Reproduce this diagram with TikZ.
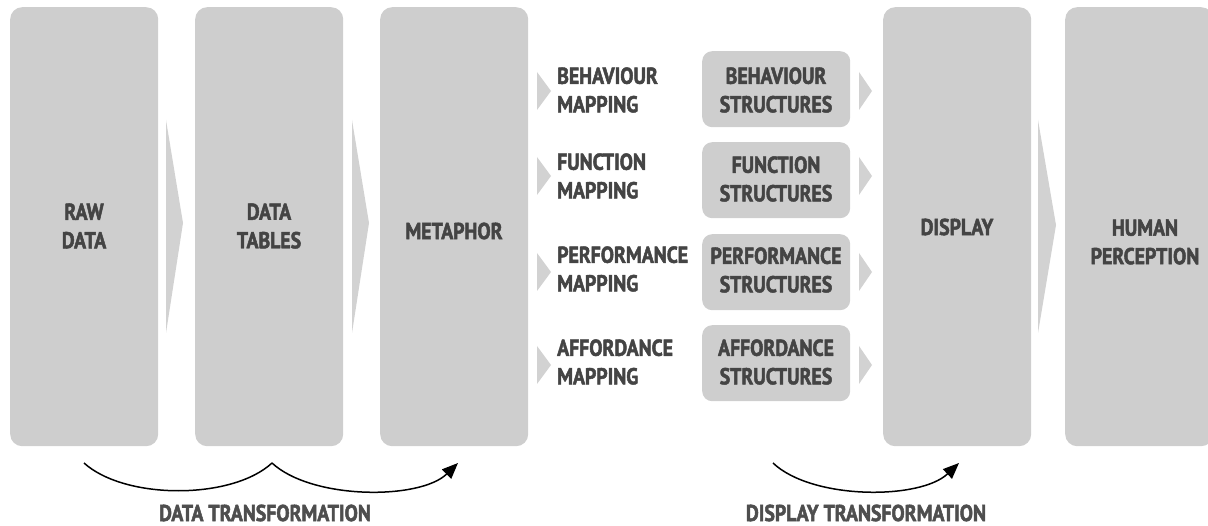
\documentclass[tikz,border=0pt]{standalone}
\usepackage{fontspec}
\setmainfont{PT Sans}[FakeStretch=0.86, BoldFeatures={FakeBold=2.1}]
\usetikzlibrary{arrows.meta}
\definecolor{boxgray}{HTML}{CECECE}
\definecolor{arrgray}{HTML}{D2D2D2}
\definecolor{txtgray}{HTML}{444444}
\definecolor{captgray}{HTML}{4E4E4E}
\begin{document}
\begin{tikzpicture}[x=1pt,y=-1pt,
  bigbox/.style={fill=boxgray, rounded corners=12pt, minimum width=148pt, minimum height=439pt, inner sep=0pt, anchor=north west},
  smallbox/.style={fill=boxgray, rounded corners=10pt, minimum width=148pt, minimum height=76pt, inner sep=0pt, anchor=north west},
  lbl/.style={text=txtgray, align=center, inner sep=0pt, font=\bfseries\fontsize{23}{28.5}\selectfont},
  lbll/.style={text=txtgray, align=left, inner sep=0pt, anchor=west, font=\bfseries\fontsize{23}{28.5}\selectfont},
  capt/.style={text=captgray, inner sep=0pt, font=\bfseries\fontsize{23}{28}\selectfont},
  flow/.style={line width=1.5pt, black},
  tip/.style={-{Triangle[length=16pt,width=13pt]}}
]
\useasboundingbox (0,0) rectangle (1208,526);
% big boxes
\node[bigbox] (raw) at (10,7) {};
\node[bigbox] (tab) at (195,7) {};
\node[bigbox] (met) at (380,7) {};
\node[bigbox] (dis) at (883,7) {};
\node[bigbox] (hum) at (1065,7) {};
% big arrows
\fill[arrgray] (166,120) -- (183,223) -- (166,333) -- cycle;
\fill[arrgray] (352,120) -- (369,223) -- (352,333) -- cycle;
\fill[arrgray] (1038,120) -- (1056,225) -- (1038,333) -- cycle;
% texts in big boxes
\node[lbl] (rawt) at (84,226) {RAW\\DATA};
\node[lbl] (tabt) at (269,226) {DATA\\TABLES};
\node[lbl] (mett) at (454,231) {METAPHOR};
\node[lbl] (dist) at (957,227) {DISPLAY};
\node[lbl] (humt) at (1145,242) {HUMAN\\PERCEPTION};
% small boxes
\node[smallbox] (sb1) at (702,51) {};
\node[smallbox] (sb2) at (702,142) {};
\node[smallbox] (sb3) at (702,234) {};
\node[smallbox] (sb4) at (702,325) {};
\node[lbl] (sb1t) at (776,90) {BEHAVIOUR\\STRUCTURES};
\node[lbl] (sb2t) at (776,179) {FUNCTION\\STRUCTURES};
\node[lbl] (sb3t) at (776,270) {PERFORMANCE\\STRUCTURES};
\node[lbl] (sb4t) at (776,362) {AFFORDANCE\\STRUCTURES};
% mapping labels
\node[lbll] (m1) at (557,90) {BEHAVIOUR\\MAPPING};
\node[lbll] (m2) at (557,176) {FUNCTION\\MAPPING};
\node[lbll] (m3) at (557,269) {PERFORMANCE\\MAPPING};
\node[lbll] (m4) at (557,362) {AFFORDANCE\\MAPPING};
% small arrows
\foreach \yc in {91,176,272,365}{
  \fill[arrgray] (537,\yc-19) -- (551,\yc) -- (537,\yc+19) -- cycle;
  \fill[arrgray] (859,\yc-19) -- (872,\yc) -- (859,\yc+19) -- cycle;
}
% transformation curves
\coordinate (d0) at (84,463);
\coordinate (d1) at (272,463);
\coordinate (d2) at (458,463);
\coordinate (e0) at (773,463);
\coordinate (e1) at (959,463);
\draw[flow] (d0) .. controls (125,500) and (232,500) .. (d1);
\draw[flow,tip] (d1) .. controls (312,500) and (420,500) .. (d2);
\draw[flow,tip] (e0) .. controls (812,500) and (920,500) .. (e1);
\node[capt] (dt) at (265,513) {DATA TRANSFORMATION};
\node[capt] (dst) at (866,513) {DISPLAY TRANSFORMATION};
\end{tikzpicture}
\end{document}
